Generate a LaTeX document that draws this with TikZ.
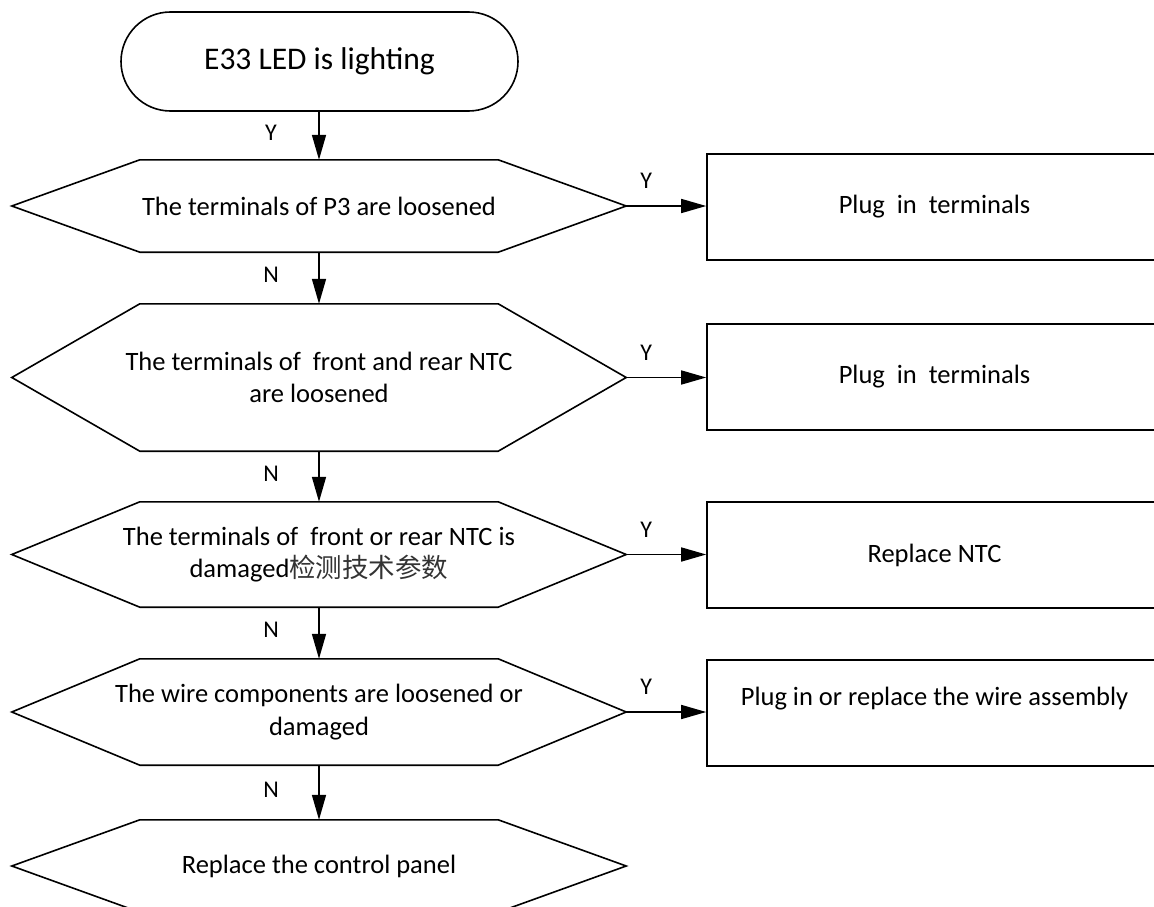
\documentclass[tikz,border=0pt]{standalone}
\usepackage{fontspec}
\setmainfont{Carlito}
\newfontfamily\cjk{Noto Sans CJK SC}
\usetikzlibrary{arrows.meta}
\tikzset{
  shapeline/.style={draw=black, line width=1.6pt},
  txt/.style={font=\fontsize{26.5}{32.5}\selectfont, align=center, inner sep=0pt},
  hexbox/.style={txt, minimum width=614pt, draw=none},
  terminal/.style={shapeline, rounded corners=49.5pt, minimum width=397pt, minimum height=99pt, font=\fontsize{31.5}{38}\selectfont, inner sep=0pt},
  actbox/.style={txt, shapeline, minimum width=455pt, minimum height=106pt},
  flow/.style={line width=1.6pt, -{Triangle[length=25pt,width=14pt]}},
  lab/.style={font=\fontsize{24}{28}\selectfont, inner sep=0pt},
  nlab/.style={lab, midway, xshift=-48pt, yshift=3pt},
  ylab/.style={lab, pos=0.25, yshift=25pt},
}
\newcommand\drawhex[1]{\draw[shapeline] (#1.west) -- ([xshift=128pt]#1.north west) -- ([xshift=-128pt]#1.north east) -- (#1.east) -- ([xshift=-128pt]#1.south east) -- ([xshift=128pt]#1.south west) -- cycle;}
\begin{document}
\begin{tikzpicture}[x=1pt,y=-1pt]
\clip (0,0) rectangle (1154,907);
% start
\node[terminal] (t) at (319.5,61.5) {E33 LED is lighting};
% decisions
\node[hexbox, minimum height=92pt] (h1) at (319,206) {The terminals of P3 are loosened};
\node[hexbox, minimum height=147pt] (h2) at (319,377.5) {The terminals of \ front and rear NTC\\are loosened};
\node[hexbox, minimum height=105pt] (h3) at (319,554.5) {The terminals of \ front or rear NTC is\\damaged{\cjk\color{black!80}检测技术参数}};
\node[hexbox, minimum height=106pt] (h4) at (319,712) {The wire components are loosened or\\damaged};
\node[hexbox, minimum height=92pt] (h5) at (319,866) {Replace the control panel};
\drawhex{h1}
\drawhex{h2}
\drawhex{h3}
\drawhex{h4}
\drawhex{h5}
% actions
\node[actbox] (b1) at (934.5,207) {Plug \ in \ terminals};
\node[actbox] (b2) at (934.5,377) {Plug \ in \ terminals};
\node[actbox] (b3) at (934.5,555) {Replace NTC};
\node[actbox] (b4) at (934.5,713) {};
\node[txt] (b4t) at ([yshift=14pt]b4.center) {Plug in or replace the wire assembly};
% vertical flow
\draw[flow] (t.south -| h1.north) -- (h1.north) node[nlab] {Y};
\draw[flow] (h1.south) -- (h2.north) node[nlab] {N};
\draw[flow] (h2.south) -- (h3.north) node[nlab] {N};
\draw[flow] (h3.south) -- (h4.north) node[nlab] {N};
\draw[flow] (h4.south) -- (h5.north) node[nlab] {N};
% yes branches
\draw[flow] (h1.east) -- (h1.east -| b1.west) node[ylab] {Y};
\draw[flow] (h2.east) -- (h2.east -| b2.west) node[ylab] {Y};
\draw[flow] (h3.east) -- (h3.east -| b3.west) node[ylab] {Y};
\draw[flow] (h4.east) -- (h4.east -| b4.west) node[ylab] {Y};
\end{tikzpicture}
\end{document}
